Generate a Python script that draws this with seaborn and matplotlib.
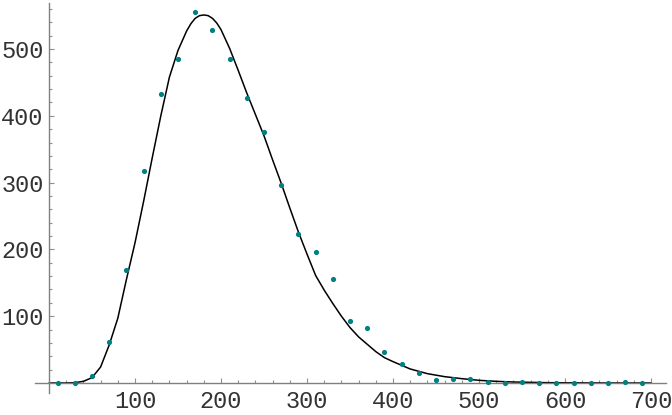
import numpy as np
import pandas as pd
import seaborn as sns
import matplotlib.pyplot as plt
from matplotlib.ticker import FixedLocator

# measured counts (dots)
point_x = [10, 30, 50, 70, 90, 110, 130, 150, 170, 190, 210, 230, 250, 270, 290,
           310, 330, 350, 370, 390, 410, 430, 450, 470, 490, 510, 530, 550, 570,
           590, 610, 630, 650, 670, 690]
point_y = [0, 0, 11, 61, 169, 317, 433, 485, 555, 528, 485, 427, 376, 296, 223,
           196, 156, 93, 82, 46, 28, 15, 4, 6, 6, 2, 0, 1, 0,
           0, 0, 0, 0, 1, 0]

# fitted curve
curve_x = [0, 10, 20, 30, 40, 50, 60, 70, 80, 90, 100, 110, 120, 130, 140, 150,
           160, 165, 170, 175, 180, 185, 190, 195, 200, 210, 220, 230, 240, 250,
           260, 270, 280, 290, 300, 310, 320, 330, 340, 350, 360, 370, 380, 390,
           400, 420, 440, 460, 480, 500, 520, 540, 560, 580, 600, 650, 700]
curve_y = [0, 0, 0, 0.5, 2.5, 8, 24, 57, 97, 155, 210, 272, 337, 400, 458, 498,
           527, 538, 546, 550, 551, 550, 546, 539, 529, 501, 468, 434, 402, 370,
           334, 299, 262, 226, 193, 161, 139, 119, 100, 83, 69, 58, 47, 38,
           32, 21, 14, 9.5, 6.5, 4, 2.5, 1.5, 1, 0.5, 0.3, 0, 0]

x_ticks = [100, 200, 300, 400, 500, 600, 700]
y_ticks = [100, 200, 300, 400, 500]

pts = pd.DataFrame({"x": point_x, "y": point_y})
fit = pd.DataFrame({"x": curve_x, "y": curve_y})

sns.set_style("white")
plt.rcParams["font.family"] = ["Liberation Mono", "DejaVu Sans Mono"]

fig = plt.figure(figsize=(6.72, 4.15), dpi=100)
ax = fig.add_axes([0, 0, 1, 1])

sns.lineplot(data=fit, x="x", y="y", color="black", linewidth=1.1, ax=ax)
sns.scatterplot(data=pts, x="x", y="y", color="#008080", s=14, linewidth=0,
                ax=ax, zorder=3)

ax.set_xlim(-57, 724.4)
ax.set_ylim(-47.9, 573.4)

for side in ["top", "right"]:
    ax.spines[side].set_visible(False)
ax.spines["left"].set_position(("data", 0))
ax.spines["bottom"].set_position(("data", 0))
ax.spines["bottom"].set_bounds(-16, 718)
ax.spines["left"].set_bounds(-15, 569)
for side in ["left", "bottom"]:
    ax.spines[side].set_color("#808080")
    ax.spines[side].set_linewidth(1)

ax.set_xticks(x_ticks)
ax.set_yticks(y_ticks)
ax.xaxis.set_minor_locator(FixedLocator(np.arange(20, 701, 20)))
ax.yaxis.set_minor_locator(FixedLocator(np.arange(20, 561, 20)))
ax.tick_params(which="both", bottom=True, left=True, direction="in",
               color="#909090", width=0.8, labelsize=17, labelcolor="#333333")
ax.tick_params(which="major", length=3.6)
ax.tick_params(which="minor", length=2.2)
ax.tick_params(axis="x", which="major", pad=5)
ax.tick_params(axis="y", which="major", pad=4)

ax.set_xlabel("")
ax.set_ylabel("")

fig.savefig("out.png", dpi=100)
